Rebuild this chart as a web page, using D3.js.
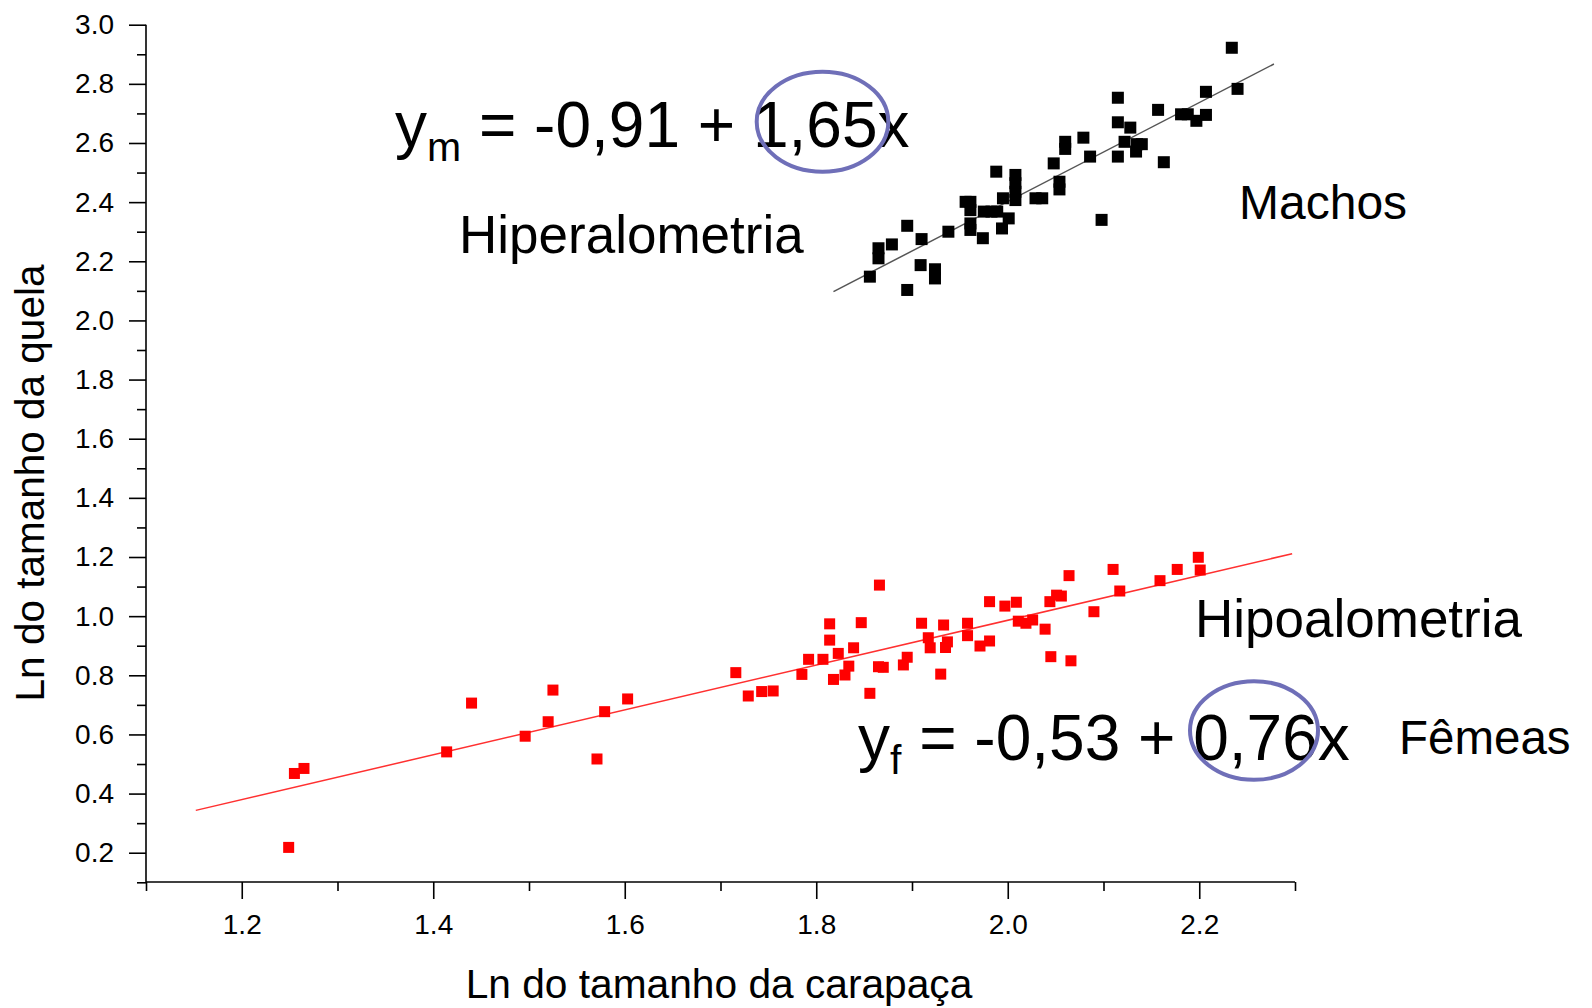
<!DOCTYPE html>
<html>
<head>
<meta charset="utf-8">
<script src="https://cdn.jsdelivr.net/npm/d3@7"></script>
<style>
  html, body { margin: 0; padding: 0; background: #fff; }
  svg { display: block; }
  text { font-family: "Liberation Sans", Arial, sans-serif; fill: #000; }
</style>
</head>
<body>
<svg id="chart" width="1592" height="1008"></svg>
<script>
// ---- Data ----
// Machos (males): Ln carapace size vs Ln claw size
const machosX = [2.234,2.240,2.207,2.115,2.157,2.181,2.188,2.207,2.197,2.115,2.128,2.079,2.060,2.060,2.122,2.135,2.140,2.134,2.086,2.115,2.048,2.163,1.988,2.008,2.008,2.008,2.008,2.054,2.054,2.029,2.036,1.956,1.961,1.961,1.995,1.975,1.983,1.989,2.001,1.994,1.961,1.961,1.974,1.938,2.098,1.895,1.910,1.879,1.865,1.865,1.909,1.924,1.924,1.856,1.895];
const machosY = [2.922,2.783,2.773,2.753,2.712,2.697,2.697,2.695,2.675,2.670,2.652,2.618,2.604,2.580,2.604,2.596,2.596,2.571,2.554,2.554,2.531,2.535,2.503,2.492,2.464,2.435,2.407,2.469,2.443,2.413,2.413,2.401,2.401,2.373,2.413,2.368,2.368,2.368,2.345,2.311,2.328,2.306,2.278,2.300,2.340,2.320,2.275,2.257,2.244,2.210,2.187,2.173,2.142,2.148,2.103];
// Fêmeas (females)
const femeasX = [1.249,1.255,1.265,1.414,1.440,1.496,1.525,1.520,1.571,1.579,1.603,1.716,1.729,1.743,1.755,1.785,1.792,1.807,1.814,1.814,1.823,1.818,1.830,1.834,1.839,1.847,1.856,1.866,1.865,1.870,1.895,1.891,1.910,1.917,1.919,1.933,1.937,1.935,1.930,1.958,1.958,1.971,1.981,1.981,1.997,2.009,2.011,2.019,2.026,2.039,2.045,2.044,2.051,2.056,2.064,2.066,2.090,2.110,2.117,2.159,2.177,2.199,2.201];
const femeasY = [0.218,0.468,0.485,0.541,0.706,0.594,0.750,0.643,0.517,0.677,0.720,0.809,0.730,0.745,0.747,0.803,0.854,0.854,0.974,0.919,0.874,0.786,0.801,0.831,0.893,0.978,0.739,1.105,0.829,0.827,0.861,0.835,0.976,0.927,0.893,0.970,0.913,0.894,0.804,0.976,0.934,0.899,0.916,1.049,1.034,1.047,0.983,0.976,0.987,0.956,0.863,1.049,1.071,1.068,1.137,0.849,1.015,1.158,1.085,1.120,1.158,1.199,1.156];
// Fitted lines: [intercept, slope, xStart, xEnd]
const fitMachos = [-0.944, 1.673, 1.818, 2.278];
const fitFemeas = [-0.530, 0.758, 1.152, 2.297];
// Axes
const xDomain = [1.1, 2.3];
const yDomain = [0.1, 3.0];
const xMajorTicks = [1.2, 1.4, 1.6, 1.8, 2.0, 2.2];
const xMinorTicks = [1.1, 1.3, 1.5, 1.7, 1.9, 2.1, 2.3];
const yMajorTicks = [0.2, 0.4, 0.6, 0.8, 1.0, 1.2, 1.4, 1.6, 1.8, 2.0, 2.2, 2.4, 2.6, 2.8, 3.0];
const yMinorTicks = [0.1, 0.3, 0.5, 0.7, 0.9, 1.1, 1.3, 1.5, 1.7, 1.9, 2.1, 2.3, 2.5, 2.7, 2.9];
const xTitle = "Ln do tamanho da carapaça";
const yTitle = "Ln do tamanho da quela";

// ---- Drawing ----
const svg = d3.select("#chart");
const x = d3.scaleLinear().domain(xDomain).range([146, 1295]);
const y = d3.scaleLinear().domain(yDomain).range([882.3, 24.7]);
const fmt = d3.format(".1f");

// Axes
const axX = svg.append("g").attr("transform", "translate(0,882)");
axX.call(d3.axisBottom(x).tickValues(xMinorTicks).tickSize(9).tickFormat(""));
axX.call(g => g.select(".domain").remove());
const axXMaj = svg.append("g").attr("transform", "translate(0,882)")
  .call(d3.axisBottom(x).tickValues(xMajorTicks).tickSize(17).tickPadding(15).tickFormat(fmt));
axXMaj.select(".domain").attr("d", `M${x(xDomain[0])},0H${x(xDomain[1])}`);

const axY = svg.append("g").attr("transform", "translate(146,0)");
axY.call(d3.axisLeft(y).tickValues(yMinorTicks).tickSize(9).tickFormat(""));
axY.call(g => g.select(".domain").remove());
const axYMaj = svg.append("g").attr("transform", "translate(146,0)")
  .call(d3.axisLeft(y).tickValues(yMajorTicks).tickSize(17).tickPadding(15).tickFormat(fmt));
axYMaj.select(".domain").attr("d", `M0,${y(yDomain[0])}V${y(yDomain[1])}`);

svg.selectAll(".domain, .tick line").attr("stroke", "#000").attr("stroke-width", 1.6);
svg.selectAll(".tick text").style("font-family", '"Liberation Sans", Arial, sans-serif')
  .style("font-size", "28px").attr("fill", "#111");

// Axis titles
svg.append("text").attr("x", 719).attr("y", 998).attr("text-anchor", "middle")
  .style("font-size", "40.7px").attr("fill", "#222").text(xTitle);
svg.append("text").attr("transform", "translate(44,483) rotate(-90)").attr("text-anchor", "middle")
  .style("font-size", "40.5px").attr("fill", "#222").text(yTitle);

// Fit lines
function fitLine(f) {
  return [[f[2], f[0] + f[1] * f[2]], [f[3], f[0] + f[1] * f[3]]];
}
const lineGen = d3.line().x(d => x(d[0])).y(d => y(d[1]));
svg.append("path").attr("d", lineGen(fitLine(fitMachos)))
  .attr("stroke", "#555").attr("stroke-width", 1.5).attr("fill", "none");
svg.append("path").attr("d", lineGen(fitLine(fitFemeas)))
  .attr("stroke", "#ff3030").attr("stroke-width", 1.5).attr("fill", "none");

// Points
const ms = d3.zip(machosX, machosY);
const fs = d3.zip(femeasX, femeasY);
svg.append("g").selectAll("rect").data(ms).join("rect")
  .attr("x", d => x(d[0]) - 6).attr("y", d => y(d[1]) - 6)
  .attr("width", 12).attr("height", 12).attr("fill", "#000");
svg.append("g").selectAll("rect").data(fs).join("rect")
  .attr("x", d => x(d[0]) - 5.5).attr("y", d => y(d[1]) - 5.5)
  .attr("width", 11).attr("height", 11).attr("fill", "#ff0000");

// Annotations
function eq(xp, yp, sub, rest) {
  const t = svg.append("text").attr("x", xp).attr("y", yp).style("font-size", "64px");
  t.append("tspan").text("y");
  t.append("tspan").attr("dy", 14).style("font-size", "41px").text(sub);
  t.append("tspan").attr("dy", -14).text(rest);
}
eq(395, 147, "m", " = -0,91 + 1,65x");
eq(858, 760, "f", " = -0,53 + 0,76x");
svg.append("text").attr("x", 459).attr("y", 253).style("font-size", "53px").text("Hiperalometria");
svg.append("text").attr("x", 1239).attr("y", 219).style("font-size", "48px").text("Machos");
svg.append("text").attr("x", 1195).attr("y", 637).style("font-size", "53px").text("Hipoalometria");
svg.append("text").attr("x", 1399).attr("y", 754).style("font-size", "47.5px").text("Fêmeas");

// Highlight ellipses
svg.append("ellipse").attr("cx", 822.5).attr("cy", 121.7).attr("rx", 65.8).attr("ry", 50)
  .attr("fill", "none").attr("stroke", "#6f6fb8").attr("stroke-width", 4);
svg.append("ellipse").attr("cx", 1254).attr("cy", 730.5).attr("rx", 64).attr("ry", 49.3)
  .attr("fill", "none").attr("stroke", "#6f6fb8").attr("stroke-width", 4);
</script>
</body>
</html>
